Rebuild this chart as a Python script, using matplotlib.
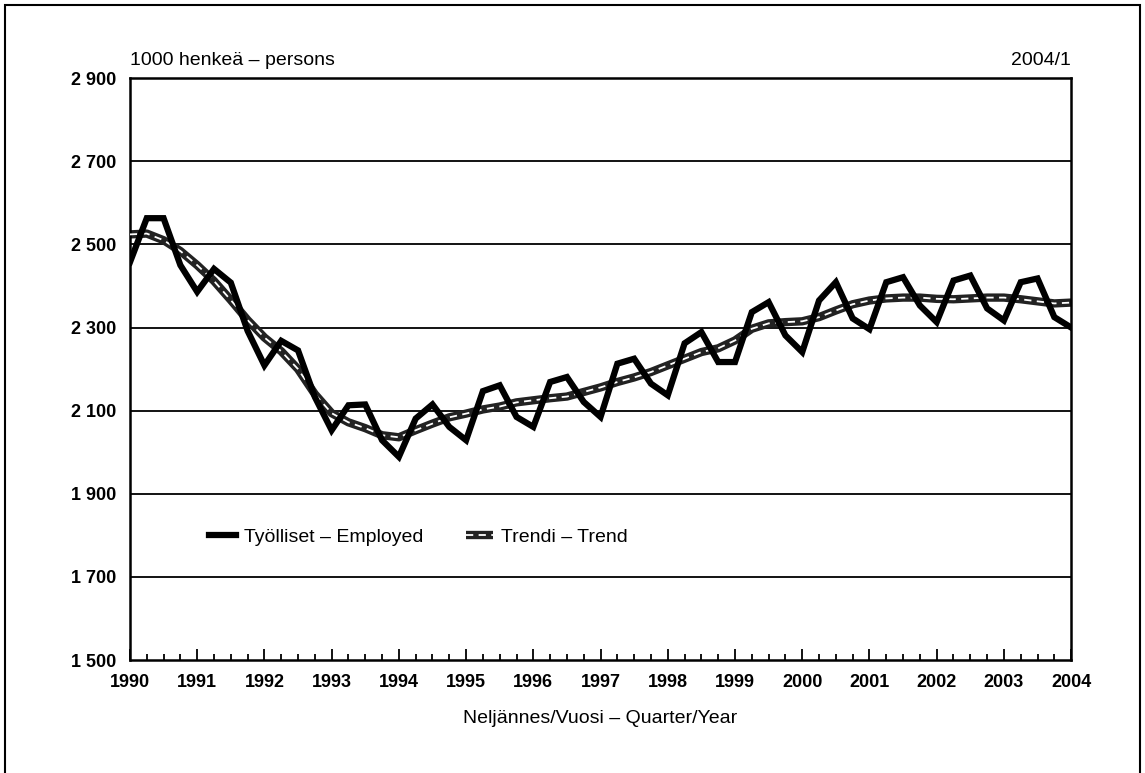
#!/usr/bin/env python3
import numpy as np
import matplotlib.pyplot as plt
from matplotlib.legend_handler import HandlerTuple
from matplotlib.patches import Rectangle

plt.rcParams['font.family'] = ['Liberation Sans Narrow', 'Liberation Sans', 'DejaVu Sans']

# quarterly data 1990/1 - 2004/1, 1000 persons
employed = [2457, 2563, 2563, 2450, 2386, 2441, 2408, 2292, 2209, 2268, 2245, 2133,
            2053, 2113, 2115, 2029, 1989, 2081, 2115, 2061, 2029, 2147, 2161, 2085,
            2061, 2169, 2181, 2121, 2085, 2213, 2225, 2165, 2137, 2262, 2289, 2217,
            2217, 2337, 2361, 2281, 2241, 2365, 2409, 2322, 2296, 2409, 2421, 2353,
            2313, 2413, 2425, 2346, 2317, 2409, 2418, 2325, 2300]
trend = [2524, 2526, 2510, 2484, 2450, 2412, 2366, 2318, 2276, 2243, 2200, 2140,
         2094, 2072, 2058, 2041, 2036, 2053, 2069, 2084, 2093, 2103, 2110, 2120,
         2125, 2130, 2134, 2145, 2156, 2169, 2180, 2193, 2209, 2225, 2241, 2250,
         2269, 2297, 2310, 2313, 2315, 2325, 2341, 2356, 2365, 2370, 2372, 2372,
         2369, 2368, 2370, 2372, 2372, 2368, 2363, 2358, 2360]
years = list(range(1990, 2005))
yticks = [1500, 1700, 1900, 2100, 2300, 2500, 2700, 2900]
ytick_labels = ['1 500', '1 700', '1 900', '2 100', '2 300', '2 500', '2 700', '2 900']

x = 1990 + np.arange(len(employed)) / 4

fig = plt.figure(figsize=(11.45, 7.73), dpi=100)
ax = fig.add_axes([0.1135, 0.146, 0.822, 0.753])

for y in yticks[1:-1]:
    ax.axhline(y, color='black', lw=1.3, zorder=1)

t1, = ax.plot(x, trend, color='#222222', lw=6, solid_capstyle='butt', zorder=2)
t2, = ax.plot(x, trend, color='white', lw=1.3, dashes=(4, 3), zorder=3)
e1, = ax.plot(x, employed, color='black', lw=4.5, solid_joinstyle='miter', zorder=4)

ax.set_xlim(1990, 2004)
ax.set_ylim(1500, 2900)
ax.set_yticks(yticks)
ax.set_yticklabels(ytick_labels)
ax.set_xticks(years)
ax.set_xticklabels([str(y) for y in years])
ax.set_xticks(x, minor=True)
ax.tick_params(axis='x', which='major', direction='in', length=8, width=1.3, pad=10)
ax.tick_params(axis='x', which='minor', direction='in', length=4, width=1.3)
ax.tick_params(axis='y', length=0, pad=10)
ax.tick_params(labelsize=13)
for lab in ax.get_xticklabels() + ax.get_yticklabels():
    lab.set_fontweight('bold')
for s in ax.spines.values():
    s.set_linewidth(1.8)

ax.set_xlabel('Neljännes/Vuosi – Quarter/Year', fontsize=14, labelpad=14)
ax.text(0, 1.015, '1000 henkeä – persons', transform=ax.transAxes,
        fontsize=14, ha='left', va='bottom')
ax.text(1, 1.015, '2004/1', transform=ax.transAxes,
        fontsize=14, ha='right', va='bottom')

ax.legend([e1, (t1, t2)], ['Työlliset – Employed', 'Trendi – Trend'],
          handler_map={tuple: HandlerTuple(ndivide=1, pad=0)},
          loc='center left', bbox_to_anchor=(0.065, 0.211), ncol=2,
          frameon=False, fontsize=14, handlelength=1.4, handletextpad=0.4,
          columnspacing=2.2)

fig.patches.append(Rectangle((0.004, -0.01), 0.992, 1.004, transform=fig.transFigure,
                             fill=False, lw=1.5, color='black'))

fig.savefig('out.png', dpi=100)
